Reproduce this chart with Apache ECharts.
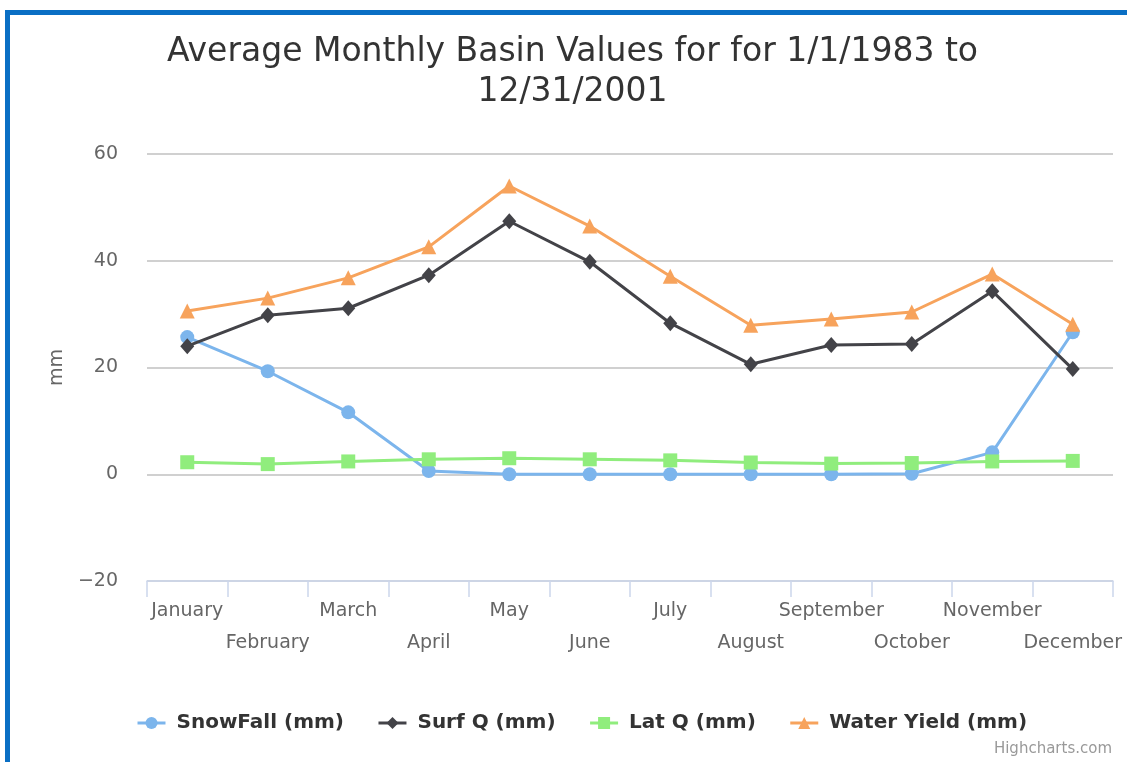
<!DOCTYPE html>
<html>
<head>
<meta charset="utf-8">
<script src="https://cdn.jsdelivr.net/npm/echarts@6/dist/echarts.min.js"></script>
<style>
  html, body { margin: 0; padding: 0; background: #fff; overflow: hidden; }
  #frame { position: absolute; left: 5px; top: 10px; width: 1200px; height: 800px; border: 5px solid #0a6fc4; pointer-events: none; }
  #chart { position: absolute; left: 10px; top: 0; width: 1125px; height: 762px; }
</style>
</head>
<body>
<div id="chart"></div>
<div id="frame"></div>
<script>
var months = ['January','February','March','April','May','June','July','August','September','October','November','December'];
var snowFall = [25.7, 19.3, 11.6, 0.6, 0, 0, 0, 0, 0, 0.1, 4.1, 26.6];
var surfQ = [24.0, 29.8, 31.1, 37.3, 47.4, 39.8, 28.3, 20.6, 24.2, 24.4, 34.3, 19.7];
var latQ = [2.25, 1.9, 2.4, 2.8, 3.0, 2.8, 2.6, 2.2, 2.0, 2.1, 2.4, 2.5];
var waterYield = [30.6, 33.0, 36.8, 42.6, 54.0, 46.5, 37.1, 27.9, 29.1, 30.4, 37.5, 28.1];
var yTicks = {min: -20, max: 60, step: 20};

var font = 'DejaVu Sans';
var myChart = echarts.init(document.getElementById('chart'));

function makeSeries(name, data, color, symbol, size) {
  return {
    name: name,
    type: 'line',
    data: data,
    symbol: symbol,
    symbolSize: size,
    lineStyle: { width: 3, color: color },
    itemStyle: { color: color },
    animation: false
  };
}

var option = {
  textStyle: { fontFamily: font },
  title: {
    text: 'Average Monthly Basin Values for for 1/1/1983 to\n12/31/2001',
    left: 'center',
    top: 27,
    textStyle: { fontFamily: font, fontSize: 33, fontWeight: 'normal', color: '#333', lineHeight: 40 }
  },
  legend: {
    bottom: 24,
    left: 121,
    itemWidth: 28,
    itemHeight: 15,
    itemGap: 33,
    lineStyle: { width: 3 },
    textStyle: { fontFamily: font, fontSize: 20, fontWeight: 'bold', color: '#333', padding: [0, 0, 0, 6] }
  },
  grid: { left: 137, right: 22, top: 154, bottom: 181 },
  xAxis: {
    type: 'category',
    data: months,
    boundaryGap: true,
    z: 5,
    axisLine: { show: true, onZero: false, lineStyle: { color: '#ccd6eb', width: 1.5 } },
    axisTick: { show: true, length: 16, lineStyle: { color: '#ccd6eb', width: 1.5 } },
    axisLabel: {
      interval: 0,
      margin: 14,
      fontFamily: font,
      fontSize: 19,
      color: '#666',
      lineHeight: 32,
      formatter: function (v, i) { return i % 2 ? '\n' + v : v; }
    }
  },
  yAxis: {
    type: 'value',
    min: yTicks.min,
    max: yTicks.max,
    interval: yTicks.step,
    name: 'mm',
    nameLocation: 'middle',
    nameGap: 80,
    nameTextStyle: { fontFamily: font, fontSize: 19, color: '#666' },
    axisLine: { show: false },
    axisTick: { show: false },
    axisLabel: {
      margin: 29,
      fontFamily: font,
      fontSize: 19,
      color: '#666',
      formatter: function (v) { return v < 0 ? '\u2212' + Math.abs(v) : String(v); }
    },
    splitLine: { lineStyle: { color: '#d0d0d0', width: 2 } }
  },
  graphic: [{
    type: 'text',
    right: 23,
    bottom: 5,
    style: { text: 'Highcharts.com', fontFamily: font, fontSize: 15, fill: '#999' }
  }],
  series: [
    makeSeries('SnowFall (mm)', snowFall, '#7cb5ec', 'circle', 14),
    makeSeries('Surf Q (mm)', surfQ, '#434348', 'diamond', [14, 16]),
    makeSeries('Lat Q (mm)', latQ, '#90ed7d', 'rect', 14),
    makeSeries('Water Yield (mm)', waterYield, '#f7a35c', 'triangle', 15)
  ]
};
myChart.setOption(option);
</script>
</body>
</html>
